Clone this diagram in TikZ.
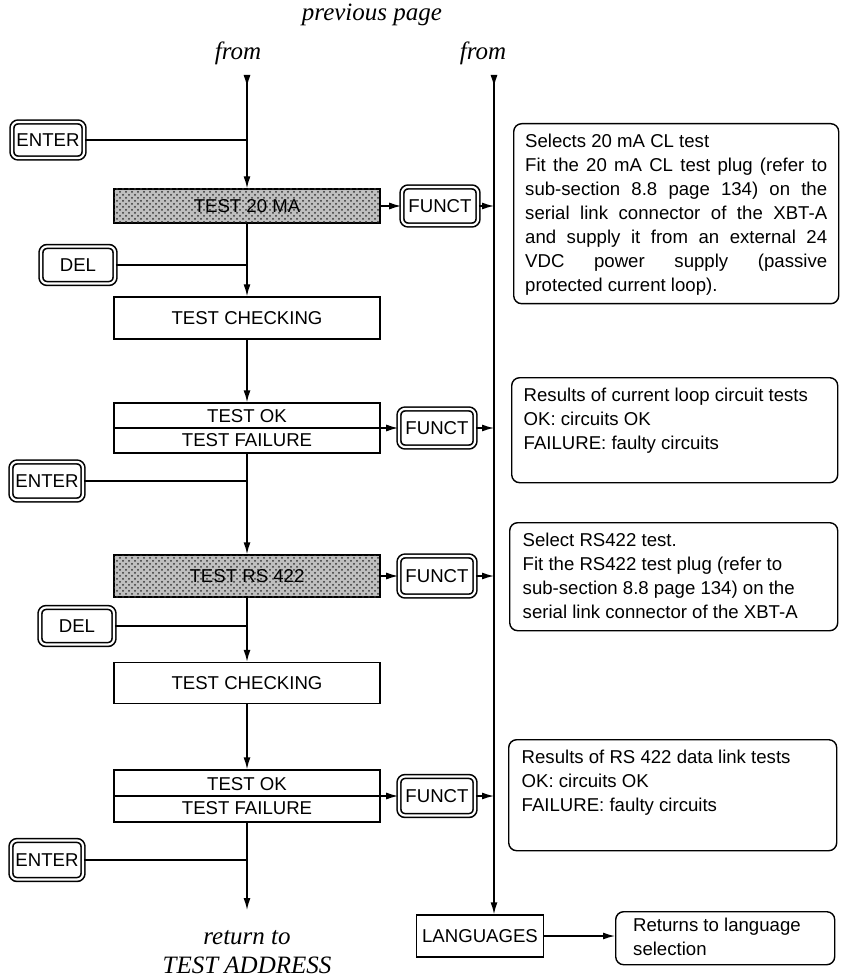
\documentclass[tikz,border=0pt]{standalone}
\usepackage{fontspec}
\setmainfont{Liberation Sans}
\newfontfamily\capfont{Liberation Serif}
\usetikzlibrary{arrows.meta,positioning,patterns,calc}
\newcommand{\jline}[1]{\makebox[\linewidth][s]{#1}}

\begin{document}
\begin{tikzpicture}[
  x=0.5pt, y=-0.5pt,
  font=\fontsize{9.3}{12}\selectfont,
  keycap/.style={draw, line width=0.8pt, double=white, double distance=1.1pt,
    rounded corners=3pt, inner sep=0pt, minimum width=37pt, minimum height=18.5pt},
  panel/.style={draw, line width=0.7pt, inner sep=0pt, minimum width=133pt},
  greybox/.style={panel, fill=black!25,
    postaction={pattern=crosshatch dots, pattern color=black!80}},
  note/.style={draw, line width=0.7pt, rounded corners=4pt, anchor=north west,
    inner xsep=5pt, inner ysep=5pt},
  remark/.style={font=\capfont\itshape\fontsize{12.5}{14.5}\selectfont, align=center},
  arr/.style={-{Latex[length=6pt,width=3.5pt]}, line width=0.7pt},
  link/.style={line width=0.7pt},
  startarr/.style={{Latex[length=6pt,width=3.5pt,reversed]}-{Latex[length=6pt,width=3.5pt]},
    line width=0.7pt}
]
\useasboundingbox (0,0) rectangle (842,978);

% headings
\node[remark] (prev)  at (372,15) {previous page};
\node[remark] (froml) at (238,53) {from};
\node[remark] (fromr) at (483,53) {from};
\coordinate (ltop) at (247,75);
\coordinate (rtop) at (494,75);

% main column
\node[keycap, minimum width=36pt, minimum height=18pt] (ent1) at (48,140) {ENTER};
\node[greybox, minimum height=17pt] (t20) at (247,206) {TEST 20 MA};
\node[keycap, minimum width=38pt, minimum height=19pt] (fk1) at (440,206) {FUNCT};
\node[keycap] (del1) at (78,265) {DEL};
\node[panel, minimum height=21pt] (chk1) at (247,318) {TEST CHECKING};
\node[panel, minimum height=25pt, align=center] (ok1) at (247,428) {TEST OK\\TEST FAILURE};
\node[keycap, minimum width=38pt, minimum height=19pt] (fk2) at (437,428) {FUNCT};
\node[keycap, minimum width=36pt, minimum height=19pt] (ent2) at (47,481) {ENTER};
\node[greybox, minimum height=21pt] (rs) at (247,576) {TEST RS 422};
\node[keycap, minimum width=38pt, minimum height=20pt] (fk3) at (437,576) {FUNCT};
\node[keycap] (del2) at (77,626) {DEL};
\node[panel, minimum height=20.5pt] (chk2) at (247,683) {TEST CHECKING};
\node[panel, minimum height=26pt, align=center] (ok2) at (247,796) {TEST OK\\TEST FAILURE};
\node[keycap, minimum width=38pt, minimum height=19.5pt] (fk4) at (437,796) {FUNCT};
\node[keycap, minimum width=36pt, minimum height=19.5pt] (ent3) at (47,860) {ENTER};
\coordinate (ret) at (247,910);
\node[remark] (back) at (247,952) {return to\\TEST ADDRESS};

% right column
\node[panel, minimum width=63.5pt, minimum height=21pt] (lang) at (480,936) {LANGUAGES};
\node[note, inner xsep=8.5pt, inner ysep=3pt, minimum width=109.5pt] (sel) at (615,911)
  {\parbox[t][20.5pt][t]{92pt}{\raggedright Returns to language\\ selection}};

% notes
\node[note, minimum width=162.5pt] (n1) at (513,123) {\parbox[t][80pt][t]{151pt}{%
  Selects 20 mA CL test\\
  \jline{Fit the 20 mA CL test plug (refer to}\\
  \jline{sub-section 8.8 page 134) on the}\\
  \jline{serial link connector of the XBT-A}\\
  \jline{and supply it from an external 24}\\
  \jline{VDC power supply (passive}\\
  protected current loop).}};
\node[note, minimum width=163pt] (n2) at (511,377) {\parbox[t][42.5pt][t]{151pt}{\raggedright
  Results of current loop circuit tests\\
  OK: circuits OK\\
  FAILURE: faulty circuits}};
\node[note, minimum width=164pt] (n3) at (509,522) {\parbox[t][44pt][t]{151pt}{\raggedright
  Select RS422 test.\\
  Fit the RS422 test plug (refer to\\
  sub-section 8.8 page 134) on the\\
  serial link connector of the XBT-A}};
\node[note, minimum width=164pt] (n4) at (508,739) {\parbox[t][45.5pt][t]{151pt}{\raggedright
  Results of RS 422 data link tests\\
  OK: circuits OK\\
  FAILURE: faulty circuits}};

% main flow
\draw[startarr] (ltop) -- (t20.north);
\draw[link] (ent1.east) -- (ent1.east -| ltop);
\draw[arr] (t20) -- (chk1);
\draw[link] (del1.east) -- (del1.east -| t20.south);
\draw[arr] (chk1) -- (ok1);
\draw[link] (ok1.west) -- (ok1.east);
\draw[arr] (ok1) -- (rs);
\draw[link] (ent2.east) -- (ent2.east -| ok1.south);
\draw[arr] (rs) -- (chk2);
\draw[link] (del2.east) -- (del2.east -| rs.south);
\draw[arr] (chk2) -- (ok2);
\draw[link] (ok2.west) -- (ok2.east);
\draw[arr] (ok2) -- (ret);
\draw[link] (ent3.east) -- (ent3.east -| ret);

% function keys
\draw[arr] (t20) -- (fk1);
\draw[arr] (ok1.east) -- (fk2);
\draw[arr] (rs) -- (fk3);
\draw[arr] (ok2.east) -- (fk4);
\draw[arr] (fk1) -- (fk1 -| rtop);
\draw[arr] (fk2) -- (fk2 -| rtop);
\draw[arr] (fk3) -- (fk3 -| rtop);
\draw[arr] (fk4) -- (fk4 -| rtop);
\draw[startarr] (rtop) -- (rtop |- lang.north);
\draw[arr] (lang.east) -- (lang.east -| sel.west);
\end{tikzpicture}
\end{document}
